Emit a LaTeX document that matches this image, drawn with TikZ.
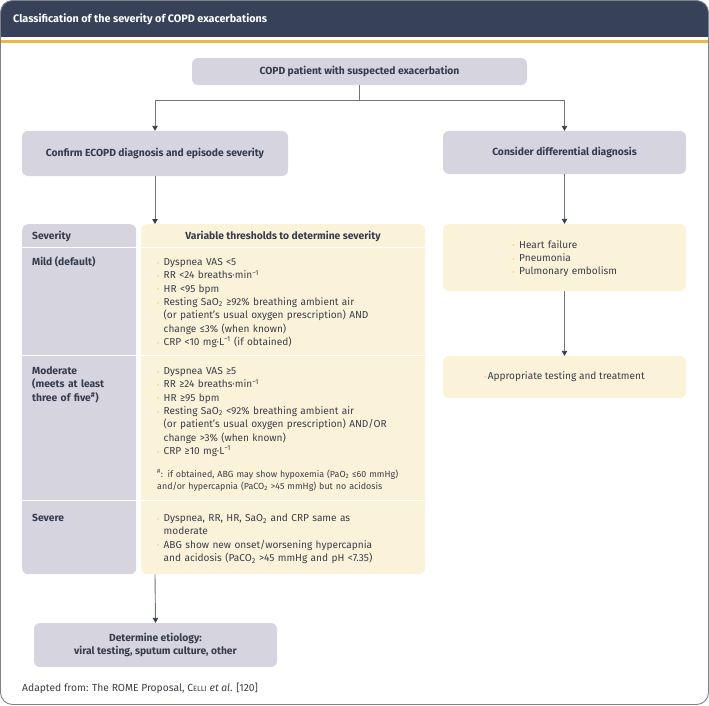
\documentclass[tikz,border=0pt]{standalone}
\usepackage{fontspec}
\setmainfont{Fira Sans}
\usetikzlibrary{arrows.meta}
\definecolor{hdr}{HTML}{374258}
\definecolor{gold}{HTML}{E9B949}
\definecolor{lav}{HTML}{D5D4DF}
\definecolor{cream}{HTML}{FBF2DA}
\definecolor{txt}{HTML}{3A3E48}
\definecolor{ttl}{HTML}{363C4C}
\definecolor{framec}{HTML}{7D828B}
\definecolor{conn}{HTML}{70747F}
\definecolor{tipc}{HTML}{353C4D}
\newcommand{\bulmark}{{\color{gold}\raisebox{0.3pt}{\scalebox{0.6}{\textbullet}}}}
\newcommand{\itm}[1]{\hangindent=6.5pt\hangafter=1\noindent\makebox[6.5pt][l]{\bulmark}#1\par}
\newcommand{\msup}[1]{\textsuperscript{#1}}
\newcommand{\msub}[1]{\textsubscript{#1}}
\begin{document}
\begin{tikzpicture}[x=1pt,y=-1pt,
  box/.style={fill=lav, rounded corners=6pt, inner sep=0pt, text=ttl, align=center,
    font=\bfseries\fontsize{10.3}{13.6}\selectfont},
  ybox/.style={fill=cream, rounded corners=6pt, inner sep=0pt, text=txt, align=center,
    font=\fontsize{10.1}{13.3}\selectfont},
  col/.style={rounded corners=6pt, inner sep=0pt, anchor=north west},
  lab/.style={anchor=base west, inner sep=0pt, text=ttl, align=left,
    font=\bfseries\fontsize{10.3}{13.3}\selectfont},
  body/.style={anchor=base west, inner sep=0pt, text=txt, align=left,
    font=\fontsize{10.1}{13.33}\selectfont},
  link/.style={draw=conn, line width=0.9pt},
  arrow/.style={link, -{Triangle[width=5.5pt,length=5pt,color=tipc]}},
]
\useasboundingbox (0,0) rectangle (709,705);
% frame and header
\begin{scope}
\clip[rounded corners=12pt] (0.5,0.5) rectangle (708.5,704.5);
\fill[hdr] (0,0) rectangle (709,37);
\fill[gold] (0,39.5) rectangle (709,43);
\end{scope}
\draw[framec, line width=0.9pt, rounded corners=12pt] (0.5,0.5) rectangle (708.5,704.5);
\node[anchor=west, inner sep=0pt, text=white, font=\bfseries\fontsize{10.8}{13}\selectfont] (title) at (13,19) {Classification of the severity of COPD exacerbations};

% flow boxes
\node[box, minimum width=335pt, minimum height=27pt] (top) at (359.5,71.5) {COPD patient with suspected exacerbation};
\node[box, minimum width=266pt, minimum height=45pt] (conf) at (155,153.5) {Confirm ECOPD diagnosis and episode severity};
\node[box, minimum width=243pt, minimum height=43pt] (diff) at (564.5,152.5) {Consider differential diagnosis};
\node[ybox, minimum width=243pt, minimum height=67pt] (dx1) at (564.5,257.5) {};
\node[ybox, minimum width=243pt, minimum height=42pt] (dx2) at (564.5,377) {\bulmark\hspace{1.5pt}Appropriate testing and treatment};
\node[box, minimum width=243pt, minimum height=44pt] (etio) at (155.5,645) {Determine etiology:\\viral testing, sputum culture, other};

% table columns
\node[col, fill=lav, minimum width=114pt, minimum height=350pt] (lcol) at (22,224) {};
\node[col, fill=cream, minimum width=284pt, minimum height=350pt] (ycol) at (141,224) {};
\foreach \yy in {247,355,500} \draw[white, line width=1pt] (22,\yy) -- (425,\yy);

% table text
\node[lab] (hsev) at (32,239.3) {Severity};
\node[lab, anchor=base] (hvar) at (283,239.3) {Variable thresholds to determine severity};
\node[lab] (lmild) at (32,265.5) {Mild (default)};
\node[lab, text width=100pt] (lmod) at (32,374.5) {Moderate\\(meets at least\\three of five\msup{\#})};
\node[lab] (lsev) at (32,521.5) {Severe};

\node[body, text width=265pt] (tmild) at (157,265.5) {%
\itm{Dyspnea VAS <5}%
\itm{RR <24 breaths·min\msup{−1}}%
\itm{HR <95 bpm}%
\itm{Resting SaO\msub{2} ≥92\% breathing ambient air\newline(or patient's usual oxygen prescription) AND\newline change ≤3\% (when known)}%
\itm{CRP <10 mg·L\msup{−1} (if obtained)}};

\node[body, text width=265pt] (tmod) at (157,374.5) {%
\itm{Dyspnea VAS ≥5}%
\itm{RR ≥24 breaths·min\msup{−1}}%
\itm{HR ≥95 bpm}%
\itm{Resting SaO\msub{2} <92\% breathing ambient air\newline(or patient's usual oxygen prescription) AND/OR\newline change >3\% (when known)}%
\itm{CRP ≥10 mg·L\msup{−1}}};

\node[body, text width=265pt, font=\fontsize{8.9}{11.7}\selectfont] (tnote) at (157,477.3) {%
\msup{\#}: if obtained, ABG may show hypoxemia (PaO\msub{2} ≤60 mmHg)\\and/or hypercapnia (PaCO\msub{2} >45 mmHg) but no acidosis};

\node[body, text width=265pt] (tsev) at (157,521.5) {%
\itm{Dyspnea, RR, HR, SaO\msub{2} and CRP same as\newline moderate}%
\itm{ABG show new onset/worsening hypercapnia\newline and acidosis (PaCO\msub{2} >45 mmHg and pH <7.35)}};

\node[body, text width=160pt] (tdx) at (512.5,248) {%
\itm{Heart failure}%
\itm{Pneumonia}%
\itm{Pulmonary embolism}};

\node[body, font=\fontsize{10.3}{13}\selectfont] (foot) at (22,691) {Adapted from: The ROME Proposal, C{\fontsize{7.6}{9}\selectfont ELLI} \textit{et al}. [120]};

% connectors
\coordinate (split) at (top.south |- 0,100);
\draw[link] (top.south) -- (split);
\draw[arrow] (split) -| (conf.north);
\draw[arrow] (split) -| (diff.north);
\draw[arrow] (conf.south) -- (conf.south |- ycol.north);
\draw[arrow] (conf.south |- ycol.south) -- (etio.north);
\draw[arrow] (diff.south) -- (dx1.north);
\draw[arrow] (dx1.south) -- (dx2.north);
\end{tikzpicture}
\end{document}
